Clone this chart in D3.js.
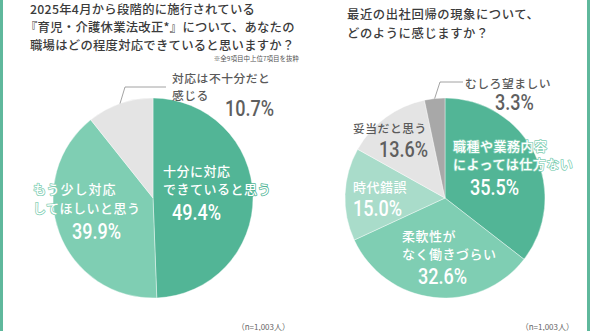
<!DOCTYPE html>
<html><head><meta charset="utf-8">
<script src="https://cdn.jsdelivr.net/npm/d3@7"></script>
<style>
html,body{margin:0;padding:0;background:#fff;}
svg{display:block;}
text{font-family:"Noto Sans CJK JP","Noto Sans",sans-serif;}
.pct{font-family:Roboto,"Noto Sans",sans-serif;font-weight:500;}
</style></head>
<body>
<svg id="c" width="590" height="331"></svg>
<script>
// ---- data ----
const leftCategories = ["十分に対応できていると思う", "もう少し対応してほしいと思う", "対応は不十分だと感じる"];
const leftValues = [49.4, 39.9, 10.7];
const rightCategories = ["職種や業務内容によっては仕方ない", "柔軟性がなく働きづらい", "時代錯誤", "妥当だと思う", "むしろ望ましい"];
const rightValues = [35.5, 32.6, 15.0, 13.6, 3.3];
const leftTitle = ["2025年4月から段階的に施行されている", "『育児・介護休業法改正*』について、あなたの", "職場はどの程度対応できていると思いますか？"];
const rightTitle = ["最近の出社回帰の現象について、", "どのように感じますか？"];
const noteText = "※全9項目中上位7項目を抜粋";
const nText = "（n=1,003人）";

// ---- styles / layout ----
const leftColors = ["#52b596", "#7fceb3", "#e4e4e4"];
const rightColors = ["#52b596", "#7fceb3", "#a9dcca", "#e4e4e4", "#a8a8a8"];
const svg = d3.select("#c");

svg.append("rect").attr("x",0).attr("y",0).attr("width",3).attr("height",331).attr("fill","#5fb89c");
svg.append("rect").attr("x",587).attr("y",0).attr("width",3).attr("height",331).attr("fill","#5fb89c");

function drawPie(cx, cy, r, values, colors){
  const pie = d3.pie().sort(null).value(d=>d);
  const arc = d3.arc().innerRadius(0).outerRadius(r);
  const g = svg.append("g").attr("transform",`translate(${cx},${cy})`);
  g.selectAll("path").data(pie(values)).join("path")
    .attr("d", arc).attr("fill",(d,i)=>colors[i])
    .attr("stroke","#fff").attr("stroke-width",0.4);
  return {pie, arc, g, cx, cy, r, values};
}

function addText(x, y, t, opts){
  const s = svg.append("text").attr("x",x).attr("y",y).text(t)
    .attr("dominant-baseline","central")
    .attr("font-size",opts.size||13)
    .attr("fill",opts.fill||"#fff")
    .attr("font-weight",opts.weight||500)
    .attr("letter-spacing",opts.ls!=null?opts.ls:0.5);
  if(opts.cls) s.attr("class",opts.cls);
  if(opts.anchor) s.attr("text-anchor",opts.anchor);
  if(opts.stroke){ s.attr("stroke",opts.stroke).attr("stroke-width",opts.sw||1.5).attr("stroke-linejoin","round").attr("paint-order","stroke"); }
  if(opts.cls==="pct"){
    const w = s.node().getComputedTextLength();
    s.attr("textLength", w*0.82).attr("lengthAdjust","spacingAndGlyphs");
  }
  return s;
}

// titles
const titleColor = "#3b3b3b";
[8.5, 26.5, 45].forEach((y,i)=>addText(i===1?25:30, y, leftTitle[i], {size:12.3, fill:titleColor, weight:500, ls:0.3}));
[13.5, 32.5].forEach((y,i)=>addText(347, y, rightTitle[i], {size:12.3, fill:titleColor, weight:500, ls:0.6}));
addText(299, 58, noteText, {size:6.5, fill:"#555", weight:400, ls:0, anchor:"end"});

// pies
const L = drawPie(153, 198, 100, leftValues, leftColors);
const R = drawPie(445, 198, 100, rightValues, rightColors);

function leader(P, i, pts){
  const a = P.pie(P.values)[i];
  const mid = (a.startAngle + a.endAngle)/2;
  const x0 = P.cx + P.r*Math.sin(mid), y0 = P.cy - P.r*Math.cos(mid);
  svg.append("path").attr("d", d3.line()([[x0,y0], ...pts])).attr("fill","none")
    .attr("stroke","#8c8c8c").attr("stroke-width",0.8);
}
leader(L, 2, [[125,87],[166,87]]);
leader(R, 4, [[440,82],[463,82]]);

const grey = "#5a5a5a", pgrey = "#5f5f5f";
// left labels
addText(172, 77, "対応は不十分だと", {size:11.8, fill:grey});
addText(172, 94, "感じる", {size:11.8, fill:grey});
addText(225, 108, leftValues[2].toFixed(1)+"%", {size:22, fill:pgrey, cls:"pct", ls:0});

addText(163, 170, "十分に対応", {size:13, stroke:leftColors[0]});
addText(163, 188, "できていると思う", {size:13, stroke:leftColors[0]});
addText(172, 212, leftValues[0].toFixed(1)+"%", {size:22, cls:"pct", ls:0});

addText(33, 188, "もう少し対応", {size:13, ls:1, stroke:leftColors[1]});
addText(33, 207, "してほしいと思う", {size:13, stroke:leftColors[1]});
addText(72, 231, leftValues[1].toFixed(1)+"%", {size:22, cls:"pct", ls:0});

// right labels
addText(465, 82, "むしろ望ましい", {size:11.8, fill:grey});
addText(495, 102, rightValues[4].toFixed(1)+"%", {size:22, fill:pgrey, cls:"pct", ls:0});

addText(353, 127.5, "妥当だと思う", {size:11.8, fill:grey});
addText(379, 149, rightValues[3].toFixed(1)+"%", {size:22, fill:pgrey, cls:"pct", ls:0});

addText(453, 145, "職種や業務内容", {size:13, stroke:"#7fceb3"});
addText(453, 163, "によっては仕方ない", {size:13, stroke:"#7fceb3"});
addText(470, 187, rightValues[0].toFixed(1)+"%", {size:22, cls:"pct", ls:0});

addText(353, 186, "時代錯誤", {size:13, stroke:rightColors[2]});
addText(353, 208, rightValues[2].toFixed(1)+"%", {size:22, cls:"pct", ls:0});

addText(402, 235, "柔軟性が", {size:13});
addText(402, 253, "なく働きづらい", {size:13});
addText(418, 276, rightValues[1].toFixed(1)+"%", {size:22, cls:"pct", ls:0});

// footnotes
addText(290, 326, nText, {size:8, fill:"#666", weight:400, ls:0, anchor:"end"});
addText(574, 326, nText, {size:8, fill:"#666", weight:400, ls:0, anchor:"end"});
</script>
</body></html>
